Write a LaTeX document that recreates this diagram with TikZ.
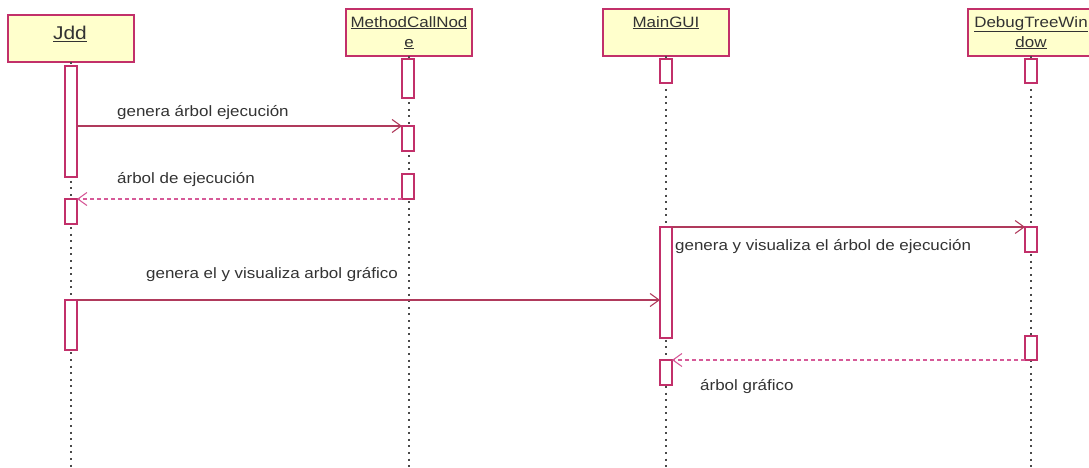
\documentclass[tikz,border=0pt]{standalone}
\usepackage{fontspec}
\setmainfont{Liberation Sans}[FakeStretch=1.13]
\usetikzlibrary{arrows.meta}
\definecolor{frame}{HTML}{C2306A}
\definecolor{headfill}{HTML}{FFFFCC}
\definecolor{msg}{HTML}{B03A5C}
\definecolor{ret}{HTML}{D65A98}
\definecolor{ink}{HTML}{333333}
\definecolor{life}{HTML}{4A4A4A}

\begin{document}
\begin{tikzpicture}[x=1pt,y=-1pt,
  headbox/.style={draw=frame,fill=headfill,line width=1.3pt,minimum width=126pt,
    minimum height=47pt,inner sep=0pt,outer sep=0pt,anchor=north},
  headtext/.style={text=ink,font=\fontsize{15}{20}\selectfont,align=center,
    inner sep=0pt,anchor=north},
  act/.style={draw=frame,fill=white,line width=1.3pt,minimum width=12pt,
    inner sep=0pt,outer sep=0pt,anchor=north},
  lifeline/.style={draw=life,line width=2pt,dash pattern=on 2pt off 4.6pt},
  tip/.style={-{Straight Barb[length=9pt,width=13pt,line width=1.1pt]}},
  call/.style={draw=msg,line width=1.3pt,tip},
  reply/.style={draw=ret,line width=1.3pt,dash pattern=on 4pt off 3pt,tip},
  msgtext/.style={text=ink,font=\fontsize{15}{18}\selectfont,inner sep=0pt,anchor=base west}]

\clip (0,0) rectangle (1089,468);
\useasboundingbox (0,0) rectangle (1089,468);
\coordinate (bottom) at (0,468);

% object heads
\node[headbox] (hJ) at (71,15) {};
\node[headbox] (hM) at (409,9) {};
\node[headbox] (hG) at (666,9) {};
\node[headbox] (hD) at (1031,9) {};

\node[headtext,font=\fontsize{18.5}{22}\selectfont] (tJ) at (70,26) {\underline{Jdd}};
\node[headtext] (tM) at (409,16) {\underline{MethodCallNod}\\\underline{e}};
\node[headtext] (tG) at (666,16) {\underline{MainGUI}};
\node[headtext] (tD) at (1031,16) {\underline{DebugTreeWin}\\\underline{dow}};

% lifelines
\draw[lifeline] (hJ.south) -- (hJ.south |- bottom);
\draw[lifeline] (hM.south) -- (hM.south |- bottom);
\draw[lifeline] (hG.south) -- (hG.south |- bottom);
\draw[lifeline] (hD.south) -- (hD.south |- bottom);

% activation bars
\node[act,minimum height=111pt] (j1) at (71,66) {};
\node[act,minimum height=25pt]  (j2) at (71,199) {};
\node[act,minimum height=50pt]  (j3) at (71,300) {};

\node[act,minimum height=39pt]  (m1) at (408,59) {};
\node[act,minimum height=25pt]  (m2) at (408,126) {};
\node[act,minimum height=25pt]  (m3) at (408,174) {};

\node[act,minimum height=24pt]  (g1) at (666,59) {};
\node[act,minimum height=111pt] (g2) at (666,227) {};
\node[act,minimum height=25pt]  (g3) at (666,360) {};

\node[act,minimum height=24pt]  (d1) at (1031,59) {};
\node[act,minimum height=25pt]  (d2) at (1031,227) {};
\node[act,minimum height=24pt]  (d3) at (1031,336) {};

% messages
\draw[call]  (j1.east |- m2.north) -- (m2.north west);
\draw[reply] (m3.south west) -- (j2.north east);
\draw[call]  (g2.north east) -- (d2.north west);
\draw[call]  (j3.north east) -- (g2.west |- j3.north);
\draw[reply] (d3.south west) -- (g3.north east);

% message labels
\node[msgtext] (l1) at (117,117) {genera árbol ejecución};
\node[msgtext] (l2) at (117,183) {árbol de ejecución};
\node[msgtext] (l3) at (675,250) {genera y visualiza el árbol de ejecución};
\node[msgtext] (l4) at (146,278) {genera el y visualiza arbol gráfico};
\node[msgtext] (l5) at (700,390) {árbol gráfico};
\end{tikzpicture}
\end{document}
